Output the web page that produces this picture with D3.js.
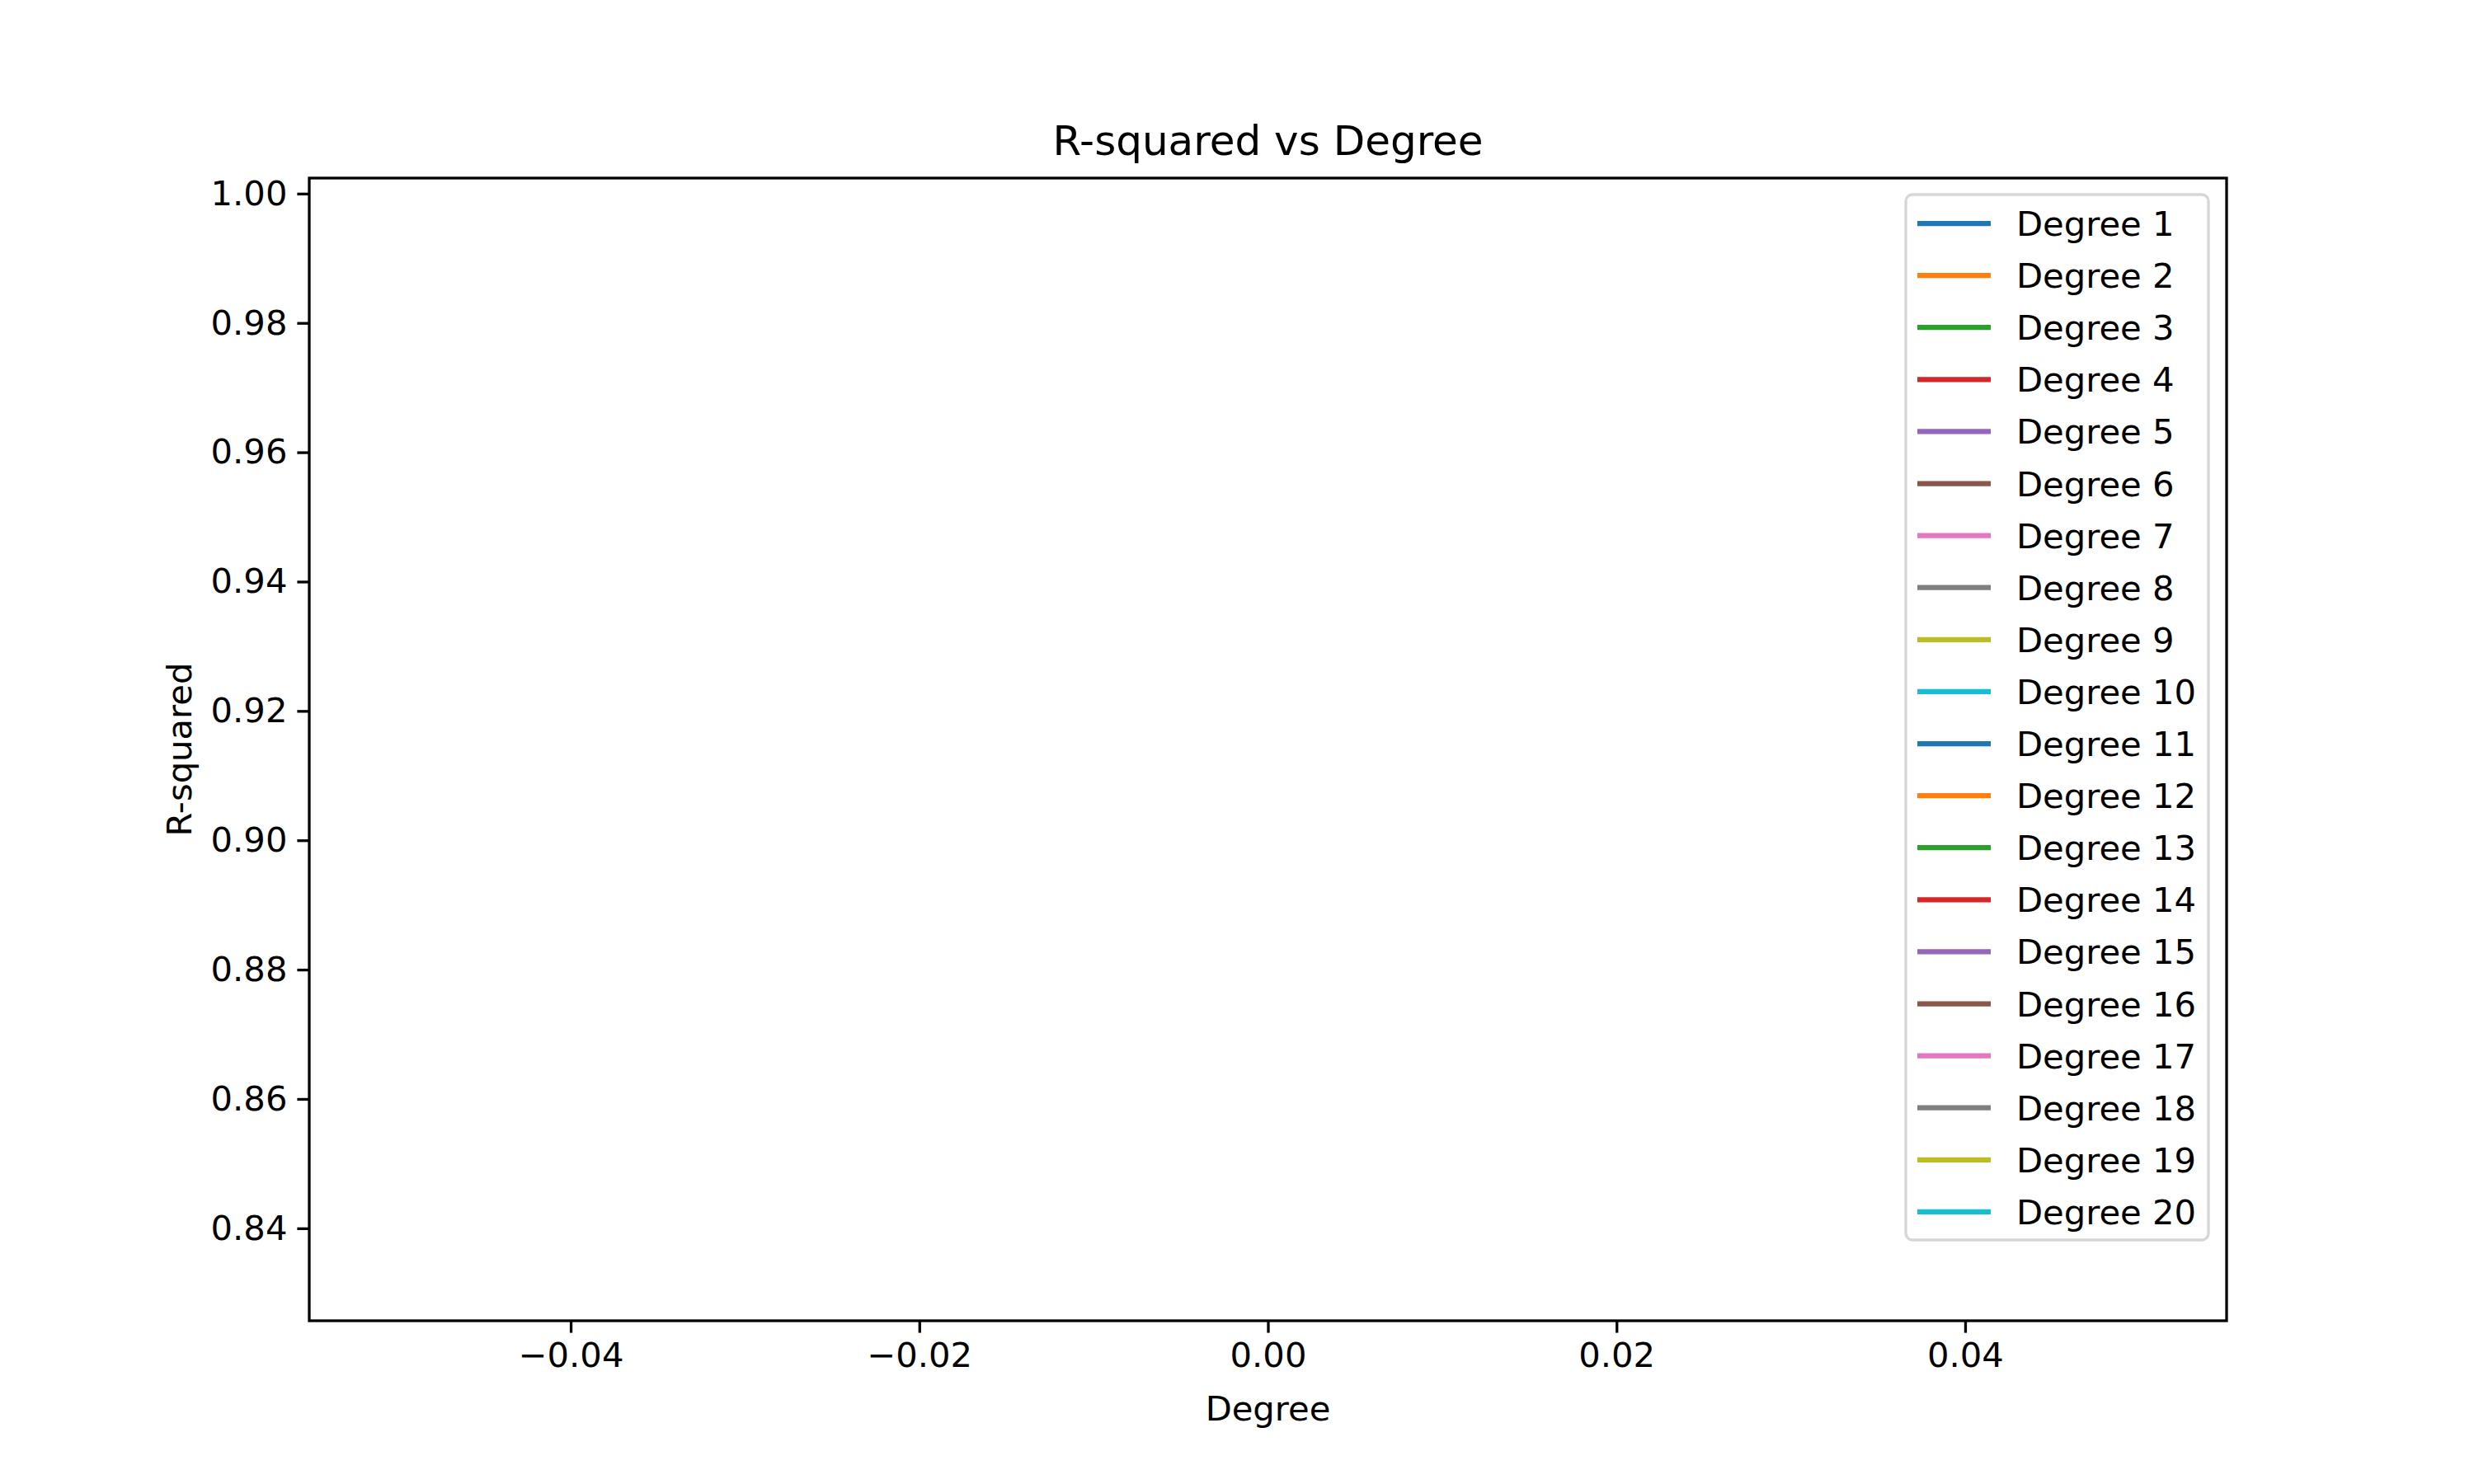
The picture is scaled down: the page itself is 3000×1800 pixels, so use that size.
<!DOCTYPE html>
<html>
<head>
<meta charset="utf-8">
<script src="https://cdn.jsdelivr.net/npm/d3@7"></script>
<style>
  body { margin: 0; background: #fff; }
  text { font-family: 'DejaVu Sans', sans-serif; }
</style>
</head>
<body>
<div id="chart"></div>
<script>
// series labels and colours (matplotlib tab10 cycle)
const seriesNames = d3.range(1, 21).map(d => 'Degree ' + d)
const palette = ['#1f77b4', '#ff7f0e', '#2ca02c', '#d62728', '#9467bd',
  '#8c564b', '#e377c2', '#7f7f7f', '#bcbd22', '#17becf']
// every series is empty in the reference: nothing was plotted
const seriesValues = seriesNames.map(() => [])
const xTicks = [-0.04, -0.02, 0.00, 0.02, 0.04]
const yTicks = [0.84, 0.86, 0.88, 0.90, 0.92, 0.94, 0.96, 0.98, 1.00]

const W = 3000, H = 1800
const m = { left: 375, right: 300, top: 216, bottom: 198 }

const svg = d3.select('#chart').append('svg')
  .attr('width', W).attr('height', H)

const x = d3.scaleLinear().domain([-0.055, 0.055]).range([m.left, W - m.right])
const y = d3.scaleLinear().domain([0.8257, 1.0024]).range([H - m.bottom, m.top])

// x axis
const gx = svg.append('g')
  .attr('transform', `translate(0,${H - m.bottom})`)
  .call(d3.axisBottom(x).tickValues(xTicks).tickFormat(d3.format('.2f'))
    .tickSize(14.6).tickPadding(12))
gx.select('.domain').remove()
gx.selectAll('line').attr('stroke-width', 3.3)
gx.selectAll('text').attr('font-size', 41.7).attr('fill', '#000')
  .text(d => d3.format('.2f')(d).replace('-', '\u2212'))

// y axis
const gy = svg.append('g')
  .attr('transform', `translate(${m.left},0)`)
  .call(d3.axisLeft(y).tickValues(yTicks).tickFormat(d3.format('.2f'))
    .tickSize(14.6).tickPadding(12))
gy.select('.domain').remove()
gy.selectAll('line').attr('stroke-width', 3.3)
gy.selectAll('text').attr('font-size', 41.7).attr('fill', '#000')

// lines (empty)
const line = d3.line().x(d => x(d[0])).y(d => y(d[1]))
svg.append('g').selectAll('path').data(seriesValues).join('path')
  .attr('d', line).attr('fill', 'none')
  .attr('stroke', (d, i) => palette[i % 10]).attr('stroke-width', 6.25)

// frame
svg.append('rect')
  .attr('x', m.left).attr('y', m.top)
  .attr('width', W - m.left - m.right).attr('height', H - m.top - m.bottom)
  .attr('fill', 'none').attr('stroke', '#000').attr('stroke-width', 3.3)

// title and labels
svg.append('text').attr('x', (m.left + W - m.right) / 2).attr('y', 188)
  .attr('text-anchor', 'middle').attr('font-size', 50).text('R-squared vs Degree')
svg.append('text').attr('x', (m.left + W - m.right) / 2).attr('y', 1723)
  .attr('text-anchor', 'middle').attr('font-size', 41.7).text('Degree')
svg.append('text')
  .attr('transform', `translate(232,${(m.top + H - m.bottom) / 2}) rotate(-90)`)
  .attr('text-anchor', 'middle').attr('font-size', 41.7).text('R-squared')

// legend
const lg = svg.append('g')
svg.append('rect').lower()
lg.append('rect')
  .attr('x', 2311).attr('y', 236).attr('width', 367).attr('height', 1268)
  .attr('rx', 8).attr('fill', '#fff').attr('fill-opacity', 0.8)
  .attr('stroke', '#d6d6d6').attr('stroke-width', 3.3)
const items = lg.selectAll('g.item').data(seriesNames).join('g')
  .attr('class', 'item')
  .attr('transform', (d, i) => `translate(0,${271 + i * 63.1})`)
items.append('line').attr('x1', 2325).attr('x2', 2414)
  .attr('stroke', (d, i) => palette[i % 10]).attr('stroke-width', 6.25)
items.append('text').attr('x', 2445).attr('y', 15)
  .attr('font-size', 41.7).text(d => d)
</script>
</body>
</html>
